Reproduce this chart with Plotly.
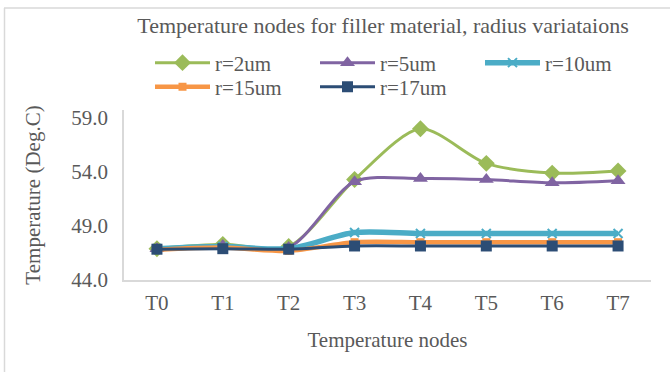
import plotly.graph_objects as go

categories = ["T0", "T1", "T2", "T3", "T4", "T5", "T6", "T7"]
r2 = [46.9, 47.3, 47.1, 53.3, 58.0, 54.8, 53.9, 54.1]
r5 = [46.9, 47.2, 47.0, 53.1, 53.4, 53.3, 53.0, 53.2]
r10 = [46.9, 47.1, 46.9, 48.4, 48.3, 48.3, 48.3, 48.3]
r15 = [46.8, 47.0, 46.7, 47.5, 47.5, 47.5, 47.5, 47.5]
r17 = [46.85, 46.9, 46.85, 47.15, 47.15, 47.15, 47.15, 47.15]
y_ticks = [44.0, 49.0, 54.0, 59.0]

W, H = 670, 372
L, R, T, B = 124, 651, 110, 280
pw, ph = R - L, B - T

def px(x):
    return (x - L) / pw

def py(y):
    return (B - y) / ph

series = [
    ("r=2um", r2, "#9BBB59", 3, "diamond", 13, "legend"),
    ("r=5um", r5, "#8064A2", 3, "triangle-up", 13, "legend"),
    ("r=10um", r10, "#4BACC6", 5.5, "x-thin", 9, "legend"),
    ("r=15um", r15, "#F79646", 4.5, "square", 8, "legend2"),
    ("r=17um", r17, "#2C4D75", 3, "square", 11, "legend2"),
]

fig = go.Figure()
for name, vals, col, lw, sym, ms, lg in series:
    fig.add_trace(go.Scatter(
        x=categories, y=vals, name=name, mode="lines+markers", legend=lg,
        line=dict(color=col, width=lw, shape="spline", smoothing=0.8),
        marker=dict(symbol=sym, size=ms, color=col,
                    line=dict(color=col, width=2 if sym == "x-thin" else 0)),
    ))

font_family = "Liberation Serif"
gray = "#595959"
FS = 21

legend_common = dict(orientation="h", xanchor="left", yanchor="middle",
                     entrywidth=95, entrywidthmode="pixels", itemwidth=55,
                     font=dict(size=FS, color=gray, family=font_family),
                     bgcolor="rgba(0,0,0,0)", traceorder="normal",
                     itemclick=False, itemdoubleclick=False)

fig.update_layout(
    width=W, height=H,
    margin=dict(l=L, r=W - R, t=T, b=H - B),
    paper_bgcolor="white", plot_bgcolor="white",
    font=dict(family=font_family, size=FS, color=gray),
    title=dict(text="Temperature nodes for filler material, radius variataions",
               x=383 / W, xanchor="center", y=1 - 25 / H, yanchor="middle",
               font=dict(size=22, color=gray, family=font_family)),
    showlegend=True,
    legend=dict(x=px(150), y=py(63), **legend_common),
    legend2=dict(x=px(150), y=py(87), **legend_common),
    xaxis=dict(type="category", range=[-0.5, 7.5], showgrid=False,
               showline=True, linecolor="#D9D9D9", linewidth=1.5,
               ticks="", ticklabelstandoff=3, tickfont=dict(size=FS, color=gray),
               title=dict(text="Temperature nodes", standoff=18,
                          font=dict(size=FS, color=gray)),
               zeroline=False, fixedrange=True),
    yaxis=dict(range=[44, 44 + ph / 10.8], tickvals=y_ticks,
               ticktext=[f"{v:.1f}" for v in y_ticks], showgrid=False,
               showline=True, linecolor="#D9D9D9", linewidth=1.5,
               ticks="", ticklabelstandoff=10, tickfont=dict(size=FS, color=gray),
               title=dict(text="Temperature (Deg.C)", standoff=25,
                          font=dict(size=FS, color=gray)),
               zeroline=False, fixedrange=True),
)

fig.add_shape(type="line", xref="paper", yref="paper",
              x0=px(4), x1=px(672), y0=py(8), y1=py(8),
              line=dict(color="#D9D9D9", width=1.5))
fig.add_shape(type="line", xref="paper", yref="paper",
              x0=px(4.5), x1=px(4.5), y0=py(8), y1=py(374),
              line=dict(color="#D9D9D9", width=1.5))

fig.write_html("out.html")
